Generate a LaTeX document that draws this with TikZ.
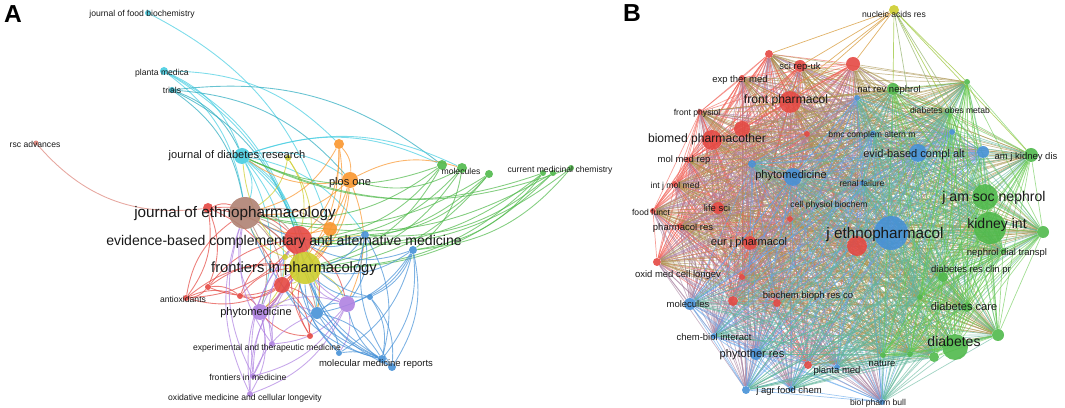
\documentclass[tikz,border=0pt]{standalone}
\usepackage{fontspec}
\setmainfont{Liberation Sans}
\usetikzlibrary{backgrounds}
\definecolor{vred}{RGB}{228,72,66}
\definecolor{vgreen}{RGB}{80,185,75}
\definecolor{vblue}{RGB}{70,145,215}
\definecolor{vyellow}{RGB}{205,205,45}
\definecolor{vpurple}{RGB}{175,130,225}
\definecolor{vcyan}{RGB}{70,205,225}
\definecolor{vteal}{RGB}{40,170,190}
\definecolor{vorange}{RGB}{250,150,45}
\definecolor{vbrown}{RGB}{175,130,115}
\definecolor{vsalmon}{RGB}{220,130,120}
\definecolor{ered}{RGB}{240,95,85}
\definecolor{egreen}{RGB}{100,200,75}
\definecolor{eblue}{RGB}{95,165,235}
\tikzset{dot/.style={circle,inner sep=0pt,minimum size=#1*0.4mm,fill opacity=.9}}
\tikzstyle{curv}=[line width=.5pt,draw opacity=.7,bend left=22]
\tikzstyle{lnk}=[line width=.4pt,draw opacity=.6]
\tikzstyle{lblT}=[anchor=mid,inner sep=0pt,text=black!90,font=\fontsize{4.9}{5}\selectfont]
\tikzstyle{lblS}=[lblT,font=\fontsize{5.4}{6}\selectfont]
\tikzstyle{lblM}=[lblT,font=\fontsize{6.3}{7}\selectfont]
\tikzstyle{lblL}=[lblT,font=\fontsize{6.9}{8}\selectfont]
\tikzstyle{lblXL}=[lblT,font=\fontsize{8}{9}\selectfont]
\tikzstyle{lblXXL}=[lblT,font=\fontsize{8.7}{10}\selectfont]
\tikzstyle{panel}=[inner sep=0pt,font=\fontsize{14}{14}\bfseries\selectfont]

\begin{document}
\begin{tikzpicture}[x=0.02cm,y=-0.02cm]
\useasboundingbox (0,0) rectangle (1065,408);

\node[panel] (pa) at (13,14) {A};
\node[panel] (pb) at (632,13) {B};

% panel A
\node[dot=3,fill=vcyan] (foodbio) at (148,13) {};
\node[dot=4,fill=vcyan] (plmed) at (164,71) {};
\node[dot=3,fill=vteal] (trials) at (172,90) {};
\node[dot=2.5,fill=vsalmon] (rsc) at (36,143) {};
\node[dot=8,fill=vcyan] (jdr) at (242,156) {};
\node[dot=3,fill=vyellow] (ya) at (288,158) {};
\node[dot=5,fill=vorange] (ora) at (339,144) {};
\node[dot=8,fill=vorange] (plos) at (350,180) {};
\node[dot=5,fill=vgreen] (mola) at (442,165) {};
\node[dot=5,fill=vgreen] (molb) at (462,168) {};
\node[dot=4,fill=vgreen] (grna) at (489,174) {};
\node[dot=3,fill=vgreen] (cmca) at (543,173) {};
\node[dot=3,fill=vgreen] (cmcb) at (553,173) {};
\node[dot=3,fill=vgreen] (cmcc) at (571,168) {};
\node[dot=16,fill=vbrown] (jep) at (245,213) {};
\node[dot=5,fill=vred] (reda) at (208,208) {};
\node[dot=7,fill=vorange] (orb) at (330,229) {};
\node[dot=4,fill=vblue] (blua) at (365,235) {};
\node[dot=14,fill=vred] (ebcam) at (298,240) {};
\node[dot=4,fill=vblue] (blub) at (413,250) {};
\node[dot=3,fill=vyellow] (yb) at (285,257) {};
\node[dot=16,fill=vyellow] (fip) at (305,268) {};
\node[dot=8,fill=vred] (redb) at (282,285) {};
\node[dot=3,fill=vred] (redc) at (208,287) {};
\node[dot=3,fill=vred] (redd) at (240,296) {};
\node[dot=3,fill=vred] (antiox) at (186,298) {};
\node[dot=8,fill=vpurple] (phytoa) at (260,312) {};
\node[dot=6,fill=vblue] (bluc) at (317,313) {};
\node[dot=8,fill=vpurple] (purb) at (347,304) {};
\node[dot=3,fill=vblue] (blud) at (370,297) {};
\node[dot=3,fill=vred] (rede) at (310,336) {};
\node[dot=3,fill=vpurple] (etm) at (272,344) {};
\node[dot=3,fill=vblue] (blf) at (339,353) {};
\node[dot=4,fill=vblue] (mmra) at (382,359) {};
\node[dot=4,fill=vblue] (mmrb) at (392,367) {};
\node[dot=3,fill=vpurple] (fim) at (253,376) {};
\node[dot=3,fill=vpurple] (omcl) at (250,394) {};

% panel B
\node[dot=5,fill=vyellow] (nar) at (894,10) {};
\node[dot=4,fill=vred] (ra) at (769,54) {};
\node[dot=6,fill=vred] (rb) at (800,66) {};
\node[dot=7,fill=vred] (rc) at (853,64) {};
\node[dot=3,fill=vred] (rd) at (742,78) {};
\node[dot=11,fill=vred] (re) at (790,102) {};
\node[dot=3,fill=vred] (rf) at (700,112) {};
\node[dot=8,fill=vred] (rg) at (742,129) {};
\node[dot=10,fill=vred] (rh) at (712,140) {};
\node[dot=3,fill=vred] (ri) at (807,134) {};
\node[dot=3,fill=vred] (rj) at (688,160) {};
\node[dot=3,fill=vred] (rk) at (675,184) {};
\node[dot=3,fill=vred] (rl) at (653,211) {};
\node[dot=6,fill=vred] (rm) at (718,208) {};
\node[dot=3,fill=vred] (rn) at (680,226) {};
\node[dot=3,fill=vred] (ro) at (790,219) {};
\node[dot=7,fill=vred] (rp) at (750,243) {};
\node[dot=10,fill=vred] (rq) at (857,246) {};
\node[dot=4,fill=vred] (rr) at (657,262) {};
\node[dot=3,fill=vred] (rs) at (742,277) {};
\node[dot=5,fill=vred] (rt) at (733,301) {};
\node[dot=4,fill=vred] (ru) at (777,303) {};
\node[dot=4,fill=vred] (rv) at (808,365) {};
\node[dot=3,fill=vblue] (ba) at (857,98) {};
\node[dot=3,fill=vblue] (bb) at (952,132) {};
\node[dot=9,fill=vblue] (bc) at (918,153) {};
\node[dot=6,fill=vblue] (bd) at (983,152) {};
\node[dot=4,fill=vblue] (be) at (752,164) {};
\node[dot=9,fill=vblue] (bf) at (793,177) {};
\node[dot=2.5,fill=vblue] (bg) at (862,183) {};
\node[dot=2.5,fill=vblue] (bh) at (873,133) {};
\node[dot=17,fill=vblue] (bi) at (891,233) {};
\node[dot=6,fill=vblue] (bj) at (690,304) {};
\node[dot=3,fill=vblue] (bk) at (714,336) {};
\node[dot=6,fill=vblue] (bl) at (756,354) {};
\node[dot=3,fill=vblue] (bm) at (837,367) {};
\node[dot=4,fill=vblue] (bn) at (746,390) {};
\node[dot=3,fill=vblue] (bo) at (791,389) {};
\node[dot=3,fill=vblue] (bp) at (882,402) {};
\node[dot=6,fill=vgreen] (ga) at (893,89) {};
\node[dot=3,fill=vgreen] (gb) at (967,82) {};
\node[dot=2.5,fill=vgreen] (gc) at (950,111) {};
\node[dot=7,fill=vgreen] (gd) at (1031,155) {};
\node[dot=13,fill=vgreen] (ge) at (985,197) {};
\node[dot=16,fill=vgreen] (gf) at (990,228) {};
\node[dot=6,fill=vgreen] (gg) at (1043,232) {};
\node[dot=3,fill=vgreen] (gh) at (1003,251) {};
\node[dot=5,fill=vgreen] (gi) at (943,277) {};
\node[dot=3,fill=vgreen] (gj) at (920,297) {};
\node[dot=5,fill=vgreen] (gk) at (967,307) {};
\node[dot=6,fill=vgreen] (gl) at (998,335) {};
\node[dot=13,fill=vgreen] (gm) at (955,347) {};
\node[dot=5,fill=vgreen] (gn) at (934,357) {};
\node[dot=3,fill=vgreen] (go) at (910,354) {};
\node[dot=3,fill=vgreen] (gp) at (883,355) {};

\begin{pgfonlayer}{background}
\draw[curv,bend left=-28,draw=vsalmon] (rsc) to (reda);
\foreach \s/\c/\tl in {foodbio/vcyan/{orb}, plmed/vcyan/{jdr,jep,ebcam,fip,ora},
  trials/vteal/{jdr,jep,mola,plos,ebcam},
  jdr/vcyan/{mola,molb,jep,ebcam,fip,redb,bluc,blua,plos,phytoa},
  ya/vyellow/{fip,ebcam,jep}, ora/vorange/{jep,ebcam,fip,plos,redb},
  plos/vorange/{jep,ebcam,fip,redb,molb,jdr,purb}, mola/vgreen/{jep,ebcam,jdr,fip},
  molb/vgreen/{ebcam,fip,blub,plos}, grna/vgreen/{jep,ebcam,fip,blua},
  cmca/vgreen/{jdr,ebcam,blub,fip}, cmcb/vgreen/{jep,fip,blua}, cmcc/vgreen/{jdr,ebcam,blub},
  reda/vred/{jep,ebcam,fip,antiox,redc,redb}, jep/vbrown/{ebcam,fip,redb,phytoa,orb,bluc},
  orb/vorange/{ebcam,fip,jep}, blua/vblue/{ebcam,fip,mmra,bluc,purb,jep},
  ebcam/vred/{fip,redb,phytoa,antiox,bluc,purb},
  blub/vblue/{ebcam,fip,mmra,mmrb,blud,purb,bluc,blf}, yb/vyellow/{fip,phytoa,jep},
  fip/vyellow/{redb,purb,phytoa,bluc,jdr,blua}, redb/vred/{phytoa,antiox,redc,redd,rede,bluc},
  redc/vred/{ebcam,fip,antiox,redd}, redd/vred/{fip,ebcam,phytoa}, antiox/vred/{jep,fip,redd},
  phytoa/vpurple/{omcl,fim,etm,purb,fip,bluc,jep}, bluc/vblue/{mmra,blf,purb,ebcam},
  purb/vpurple/{fim,omcl,etm,fip,ebcam,blf}, blud/vblue/{mmra,mmrb,ebcam,fip},
  rede/vred/{fip,ebcam,phytoa,bluc}, etm/vpurple/{fip,ebcam,jep}, blf/vblue/{fip,ebcam,mmrb},
  mmra/vblue/{fip,ebcam,redb,bluc,jep}, mmrb/vblue/{blua,fip,purb},
  fim/vpurple/{fip,ebcam,jep,bluc}, omcl/vpurple/{fip,ebcam,jep}}
  \foreach \t in \tl
    \draw[curv,draw=\c] (\s) to (\t);

\def\Blist{ra/ered,rb/ered,rc/ered,rd/ered,re/ered,rf/ered,rg/ered,rh/ered,ri/ered,
  rj/ered,rk/ered,rl/ered,rm/ered,rn/ered,ro/ered,rp/ered,rq/ered,rr/ered,rs/ered,
  rt/ered,ru/ered,rv/ered,ba/eblue,bb/eblue,bc/eblue,bd/eblue,be/eblue,bf/eblue,
  bg/eblue,bh/eblue,bi/eblue,bj/eblue,bk/eblue,bl/eblue,bm/eblue,bn/eblue,bo/eblue,
  bp/eblue,ga/egreen,gb/egreen,gc/egreen,gd/egreen,ge/egreen,gf/egreen,gg/egreen,
  gh/egreen,gi/egreen,gj/egreen,gk/egreen,gl/egreen,gm/egreen,gn/egreen,go/egreen,gp/egreen}
\foreach \a/\ca [count=\i] in \Blist
  \foreach \b/\cb [count=\j] in \Blist {
    \ifnum\j>\i \draw[lnk,draw=\ca!50!\cb] (\a) -- (\b); \fi
  }
\foreach \t/\ct in {ra/vred,rb/vred,rc/vred,re/vred,rg/vred,ga/vgreen,gb/vgreen,gc/vgreen,
  bb/vblue,bc/vblue,bd/vblue,gd/vgreen}
  \draw[lnk,draw opacity=.75,draw=vyellow!60!\ct] (nar) -- (\t);
\end{pgfonlayer}

% labels A
\node[lblT] (l-foodbio) at (142,12) {journal of food biochemistry};
\node[lblT] (l-plmed) at (162,71) {planta medica};
\node[lblT] (l-trials) at (172,89) {trials};
\node[lblT] (l-rsc) at (35,143) {rsc advances};
\node[lblM] (l-jdr) at (237,154) {journal of diabetes research};
\node[lblM] (l-plos) at (350,181) {plos one};
\node[lblT] (l-mol) at (461,170) {molecules};
\node[lblT] (l-cmc) at (560,168) {current medicinal chemistry};
\node[lblXXL] (l-jep) at (235,213) {journal of ethnopharmacology};
\node[lblXL] (l-ebcam) at (284,241) {evidence-based complementary and alternative medicine};
\node[lblT,font=\fontsize{8.4}{9}\selectfont] (l-fip) at (294,268) {frontiers in pharmacology};
\node[lblT] (l-antiox) at (183,298) {antioxidants};
\node[lblM] (l-phyto) at (256,311) {phytomedicine};
\node[lblT] (l-etm) at (267,346) {experimental and therapeutic medicine};
\node[lblS] (l-mmr) at (376,362) {molecular medicine reports};
\node[lblT] (l-fim) at (248,376) {frontiers in medicine};
\node[lblT] (l-omcl) at (245,396) {oxidative medicine and cellular longevity};

% labels B
\node[lblT] (l-nar) at (894,13) {nucleic acids res};
\node[lblS] (l-sci) at (800,65) {sci rep-uk};
\node[lblS] (l-etmb) at (740,78) {exp ther med};
\node[lblS] (l-nrn) at (889,88) {nat rev nephrol};
\node[lblL] (l-fp) at (786,99) {front pharmacol};
\node[lblT] (l-fphys) at (697,111) {front physiol};
\node[lblT] (l-dom) at (950,109) {diabetes obes metab};
\node[lblL] (l-bp) at (707,138) {biomed pharmacother};
\node[lblT] (l-bmc) at (872,133) {bmc complem altern m};
\node[lblM] (l-evid) at (914,153) {evid-based compl alt};
\node[lblS] (l-ajkd) at (1026,155) {am j kidney dis};
\node[lblS] (l-mmrb) at (684,158) {mol med rep};
\node[lblM] (l-phytob) at (791,174) {phytomedicine};
\node[lblT] (l-rf) at (862,182) {renal failure};
\node[lblT] (l-ijmm) at (675,184) {int j mol med};
\node[lblXL] (l-jasn) at (994,197) {j am soc nephrol};
\node[lblT] (l-ff) at (651,211) {food funct};
\node[lblS] (l-ls) at (717,207) {life sci};
\node[lblT] (l-cpb) at (829,203) {cell physiol biochem};
\node[lblXL] (l-ki) at (997,224) {kidney int};
\node[lblS] (l-pr) at (683,226) {pharmacol res};
\node[lblXXL] (l-jeb) at (885,234) {j ethnopharmacol};
\node[lblM] (l-ejp) at (749,241) {eur j pharmacol};
\node[lblS] (l-ndt) at (1007,251) {nephrol dial transpl};
\node[lblS] (l-drcp) at (971,268) {diabetes res clin pr};
\node[lblS] (l-omclb) at (678,273) {oxid med cell longev};
\node[lblS] (l-bbrc) at (808,294) {biochem bioph res co};
\node[lblS] (l-molb) at (688,303) {molecules};
\node[lblM] (l-dc) at (964,306) {diabetes care};
\node[lblS] (l-cbi) at (714,336) {chem-biol interact};
\node[lblXL] (l-diab) at (954,342) {diabetes};
\node[lblM] (l-ptr) at (752,353) {phytother res};
\node[lblS] (l-pm) at (837,369) {planta med};
\node[lblS] (l-nat) at (882,362) {nature};
\node[lblS] (l-jafc) at (789,389) {j agr food chem};
\node[lblT] (l-bpb) at (878,401) {biol pharm bull};
\end{tikzpicture}
\end{document}
